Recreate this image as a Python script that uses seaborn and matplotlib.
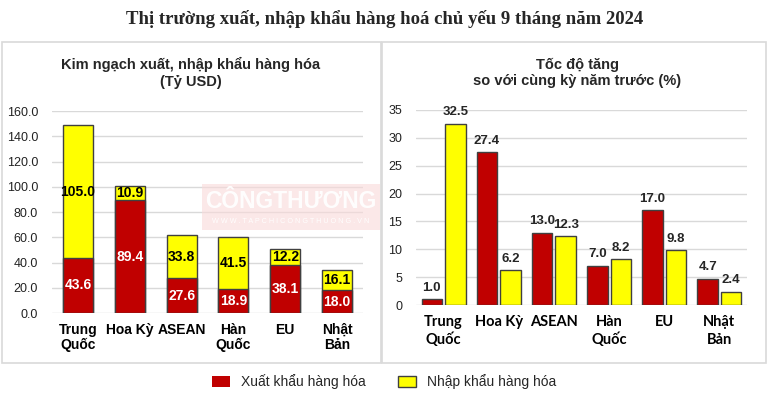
import matplotlib
matplotlib.use("Agg")
import matplotlib.pyplot as plt
import seaborn as sns
import pandas as pd
from matplotlib.patches import Rectangle, Patch

# ---- data ----
categories = ["Trung\nQuốc", "Hoa Kỳ", "ASEAN", "Hàn\nQuốc", "EU", "Nhật\nBản"]
export_value = [43.6, 89.4, 27.6, 18.9, 38.1, 18.0]
import_value = [105.0, 10.9, 33.8, 41.5, 12.2, 16.1]
export_growth = [1.0, 27.4, 13.0, 7.0, 17.0, 4.7]
import_growth = [32.5, 6.2, 12.3, 8.2, 9.8, 2.4]
series_names = ["Xuất khẩu hàng hóa", "Nhập khẩu hàng hóa"]
left_yticks = [0, 20, 40, 60, 80, 100, 120, 140, 160]
right_yticks = [0, 5, 10, 15, 20, 25, 30, 35]

title = "Thị trường xuất, nhập khẩu hàng hoá chủ yếu 9 tháng năm 2024"
left_title = "Kim ngạch xuất, nhập khẩu hàng hóa\n(Tỷ USD)"
right_title = "Tốc độ tăng\nso với cùng kỳ năm trước (%)"

RED = "#C00000"
YELLOW = "#FFFF00"
EDGE = "#404040"
GRID = "#D9D9D9"

sns.set_theme(style="white")
plt.rcParams["font.family"] = ["Liberation Sans", "DejaVu Sans"]

W, H = 769, 396
fig = plt.figure(figsize=(W / 100, H / 100), dpi=100)

def fx(px):
    return px / W

def fy(py):
    return 1 - py / H

# panel borders
for (x0, x1) in [(2, 381), (382, 766)]:
    fig.patches.append(Rectangle((fx(x0), fy(363)), fx(x1 - x0), (363 - 42) / H,
                                 transform=fig.transFigure, fill=False,
                                 edgecolor="#D9D9D9", linewidth=1.2, zorder=0))

fig.text(0.5, fy(19), title, ha="center", va="center",
         family=["Liberation Serif", "DejaVu Serif"], fontweight="bold", fontsize=13.5)
fig.text(fx(191), fy(73), left_title, ha="center", va="center",
         fontweight="bold", fontsize=10.5, linespacing=1.25)
fig.text(fx(577), fy(73), right_title, ha="center", va="center",
         fontweight="bold", fontsize=10.5, linespacing=1.25)

# ---- left: stacked bars ----
axL = fig.add_axes([fx(52), fy(313), fx(363 - 52), (313 - 111) / H])
totals = [e + i for e, i in zip(export_value, import_value)]
dfL = pd.DataFrame({"cat": categories, "total": totals, "exp": export_value, "imp": import_value})
sns.barplot(data=dfL, x="cat", y="total", color=YELLOW, saturation=1, width=0.58,
            edgecolor=EDGE, linewidth=1, ax=axL, zorder=3)
sns.barplot(data=dfL, x="cat", y="exp", color=RED, saturation=1, width=0.58,
            edgecolor=EDGE, linewidth=1, ax=axL, zorder=3)
for i, (e, im) in enumerate(zip(export_value, import_value)):
    axL.text(i, e / 2, f"{e:.1f}", ha="center", va="center", color="white",
             fontweight="bold", fontsize=10, zorder=5)
    axL.text(i, e + im / 2, f"{im:.1f}", ha="center", va="center", color="black",
             fontweight="bold", fontsize=10, zorder=5)
axL.set_ylim(0, 160)
axL.set_xlim(-0.5, 5.5)
axL.set_yticks(left_yticks)
axL.set_yticklabels([f"{v:.1f}" for v in left_yticks])

# ---- right: grouped bars ----
axR = fig.add_axes([fx(416), fy(305), fx(747 - 416), (305 - 110) / H])
dfR = pd.DataFrame({
    "cat": categories * 2,
    "val": export_growth + import_growth,
    "series": [series_names[0]] * 6 + [series_names[1]] * 6,
})
sns.barplot(data=dfR, x="cat", y="val", hue="series", hue_order=series_names,
            palette=[RED, YELLOW], saturation=1, width=0.85, gap=0.13,
            edgecolor=EDGE, linewidth=1, ax=axR, zorder=3, legend=False)
for cont in axR.containers:
    axR.bar_label(cont, fmt="%.1f", padding=4, fontweight="bold", fontsize=9.5)
axR.set_ylim(0, 35)
axR.set_xlim(-0.5, 5.5)
axR.set_yticks(right_yticks)
axR.set_yticklabels([str(v) for v in right_yticks])

for ax in (axL, axR):
    ax.set_xlabel("")
    ax.set_ylabel("")
    for s in ax.spines.values():
        s.set_visible(False)
    ax.yaxis.grid(True, color=GRID, linewidth=1, zorder=0)
    ax.set_axisbelow(True)
    ax.tick_params(axis="both", length=0)
    ax.tick_params(axis="y", labelsize=9, labelcolor="#222222", pad=10)
    ax.tick_params(axis="x", labelcolor="black", pad=7)

for lab in axL.get_xticklabels():
    lab.set_fontsize(10)
    lab.set_fontweight("bold")
    lab.set_linespacing(1.12)
for lab in axR.get_xticklabels():
    lab.set_family(["Lato", "DejaVu Sans"])
    lab.set_fontsize(10.5)
    lab.set_fontweight("bold")
    lab.set_linespacing(1.35)

# watermark
fig.patches.append(Rectangle((fx(202), fy(230)), fx(178), 46 / H, transform=fig.transFigure,
                             facecolor="#F9DADA", edgecolor="none", alpha=0.6, zorder=1))
fig.text(fx(291), fy(202), "CÔNGTHƯƠNG", ha="center", va="center", color="white",
         fontweight="bold", fontsize=16.5, alpha=0.95, zorder=2)
fig.text(fx(291), fy(222), "W W W . T A P C H I C O N G T H U O N G . V N", ha="center",
         va="center", color="white", fontsize=5.2, alpha=0.95, zorder=2)

# legend
handles = [Patch(facecolor=RED, edgecolor="none"), Patch(facecolor=YELLOW, edgecolor=EDGE)]
fig.legend(handles, series_names, loc="center", bbox_to_anchor=(fx(384), fy(382)),
           ncol=2, frameon=False, fontsize=10, handlelength=1.3, handleheight=0.9,
           handletextpad=0.8, columnspacing=2.3)

fig.savefig("out.png", dpi=100)
